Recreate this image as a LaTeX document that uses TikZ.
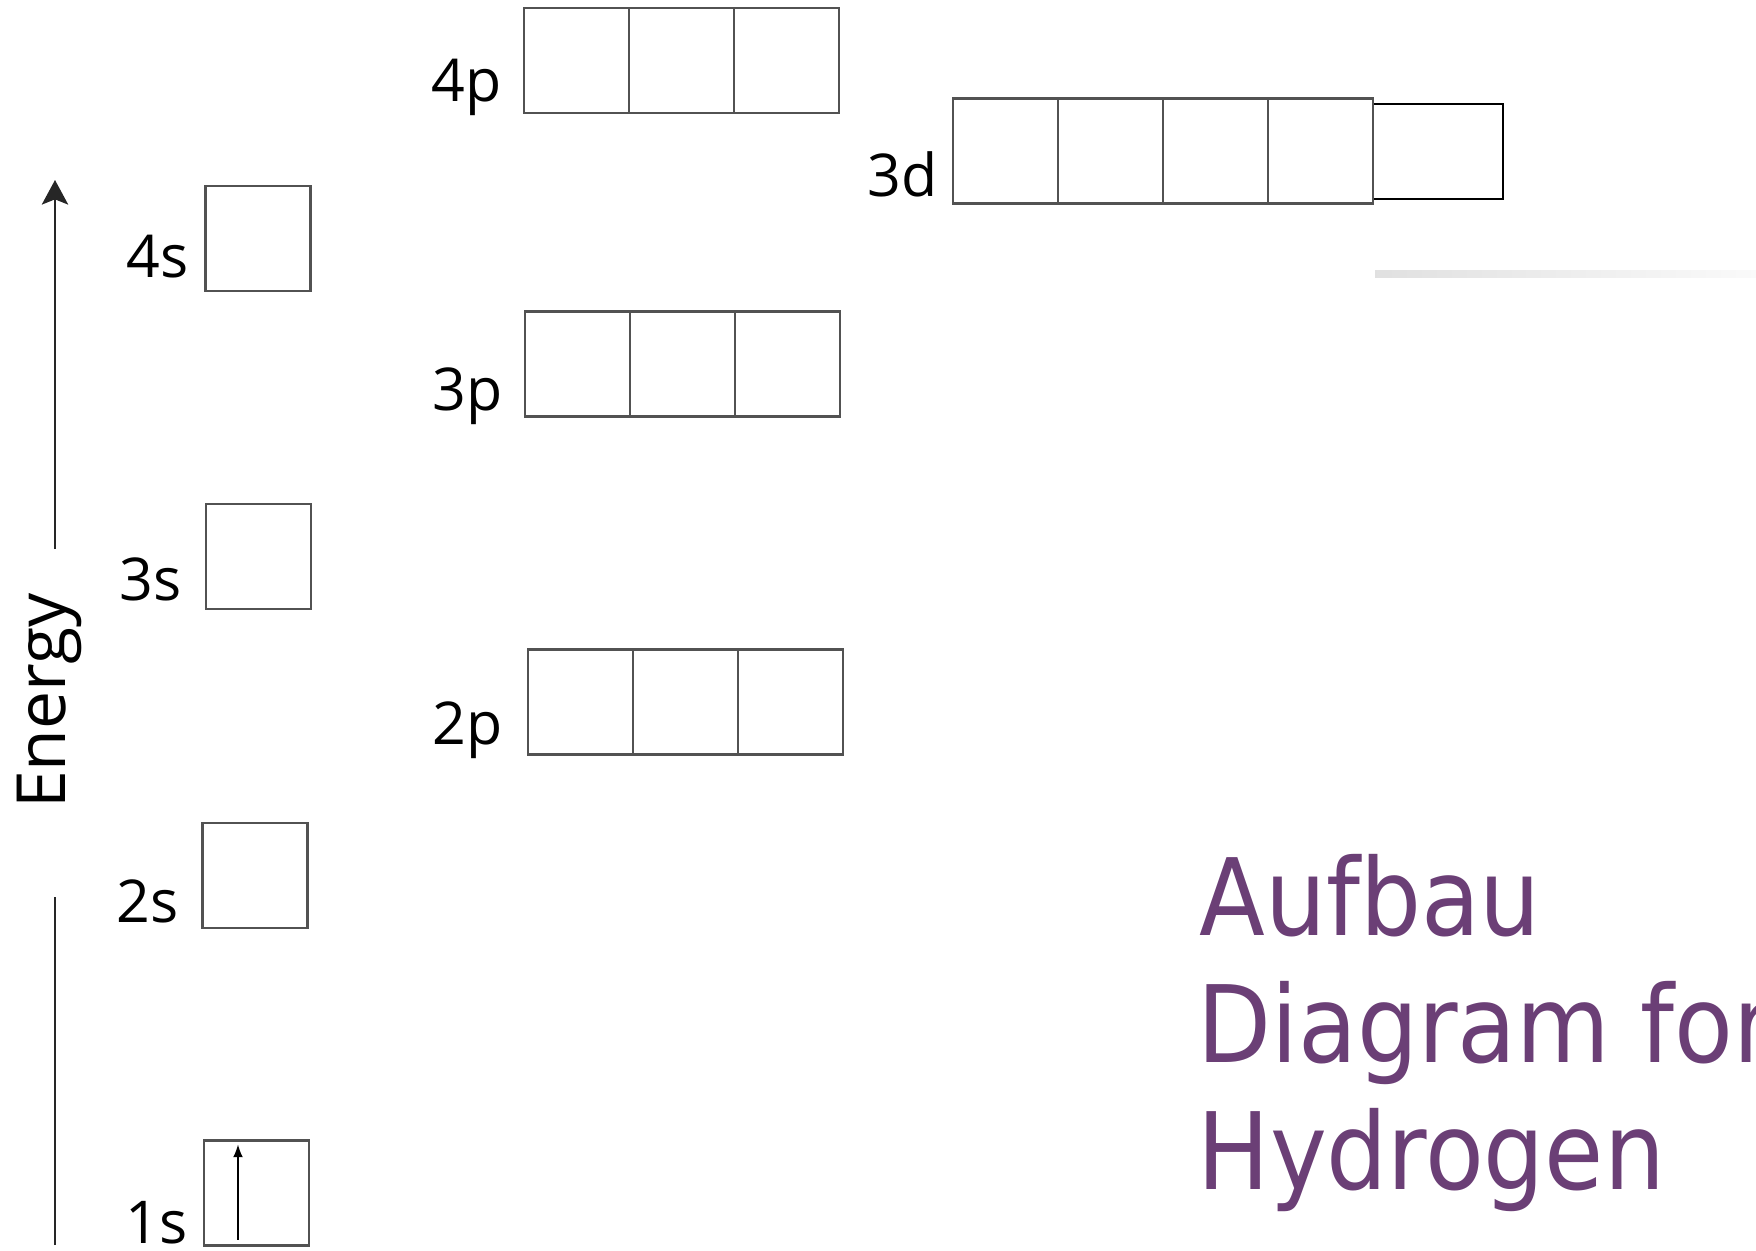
\documentclass[tikz,border=0pt]{standalone}
\usepackage{fontspec}
\setmainfont{Open Sans}
\newfontfamily\titlefont{DejaVu Sans Condensed}
\usetikzlibrary{positioning,arrows.meta}

\definecolor{titlepurple}{RGB}{107,63,118}

\tikzset{
	orb/.style={draw=black!68, line width=0.8pt, minimum width=1.05cm,
		minimum height=1.05cm, inner sep=0pt, outer sep=0pt},
	orbthin/.style={draw=black, line width=0.55pt, minimum width=1.30cm,
		minimum height=0.95cm, inner sep=0pt, outer sep=0pt},
	orblabel/.style={anchor=base east, inner sep=0pt,
		font=\fontsize{16.8}{20}\selectfont},
	axis/.style={line width=0.55pt, black!85},
	spin/.style={line width=0.4pt, -{Latex[length=3.6pt,width=2.8pt]}},
	title/.style={anchor=base west, inner sep=0pt, text=titlepurple,
		font=\titlefont\fontsize{30.4}{36}\selectfont}
}

\begin{document}
\begin{tikzpicture}[>={Stealth[length=7pt,width=7.5pt,inset=1.5pt]}]
	\useasboundingbox (0,0) rectangle (17.56,-12.5);

	% energy axis, broken around its label
	\node [rotate=90, inner sep=0pt, font=\fontsize{19.3}{23}\selectfont] (energy) at (0.49, -7.01) {Energy};
	\coordinate (axtop) at (0.55, -1.80);
	\coordinate (axmid) at (0.55, -5.49);
	\coordinate (axlow) at (0.55, -8.97);
	\coordinate (axbot) at (0.55, -12.45);
	\draw [axis] (axbot) -- (axlow);
	\draw [axis, ->] (axmid) -- (axtop);

	% s levels
	\node [orb] (s1) at (2.565, -11.93) {};
	\node [orb] (s2) at (2.55, -8.755) {};
	\node [orb] (s3) at (2.585, -5.565) {};
	\node [orb] (s4) at (2.58, -2.385) {};

	\node [orblabel] (l1s) at (1.88, -12.43) {1s};
	\node [orblabel] (l2s) at (1.79, -9.22) {2s};
	\node [orblabel] (l3s) at (1.82, -6.00) {3s};
	\node [orblabel] (l4s) at (1.89, -2.77) {4s};

	% the one electron of hydrogen
	\draw [spin] ([xshift=-1.85mm, yshift=0.6mm]s1.south) -- ([xshift=-1.85mm, yshift=-0.4mm]s1.north);

	% p levels
	\node [orb] (p2a) at (5.805, -7.02) {};
	\node [orb, right=0pt of p2a] (p2b) {};
	\node [orb, right=0pt of p2b] (p2c) {};
	\node [orblabel] (l2p) at (5.03, -7.44) {2p};

	\node [orb] (p3a) at (5.775, -3.64) {};
	\node [orb, right=0pt of p3a] (p3b) {};
	\node [orb, right=0pt of p3b] (p3c) {};
	\node [orblabel] (l3p) at (5.03, -4.10) {3p};

	\node [orb] (p4a) at (5.765, -0.605) {};
	\node [orb, right=0pt of p4a] (p4b) {};
	\node [orb, right=0pt of p4b] (p4c) {};
	\node [orblabel] (l4p) at (5.02, -1.02) {4p};

	% d level
	\node [orbthin] (d3e) at (14.38, -1.515) {};
	\node [orb] (d3a) at (10.055, -1.51) {};
	\node [orb, right=0pt of d3a] (d3b) {};
	\node [orb, right=0pt of d3b] (d3c) {};
	\node [orb, right=0pt of d3c] (d3d) {};
	\node [orblabel] (l3d) at (9.38, -1.96) {3d};

	\shade [left color=black!12, right color=black!2] (13.75, -2.70) rectangle (17.56, -2.77);

	% heading
	\node [title] (t1) at (11.99, -9.35) {Aufbau};
	\node [title] (t2) at (11.97, -10.62) {Diagram for};
	\node [title] (t3) at (11.97, -11.89) {Hydrogen};

\end{tikzpicture}
\end{document}
